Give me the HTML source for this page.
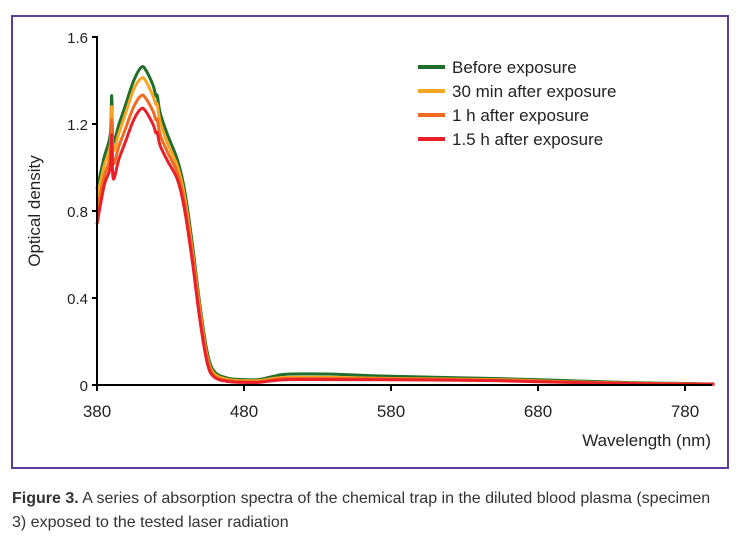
<!DOCTYPE html>
<html><head><meta charset="utf-8"><style>
body{margin:0;background:#fff;width:738px;height:547px;overflow:hidden;font-family:"Liberation Sans",Arial,sans-serif}
#frame{position:absolute;left:11px;top:15px;width:714px;height:450px;border:2px solid #5b3d9c}
#cap{position:absolute;left:12px;top:487px;width:712px;font-size:16px;line-height:24px;color:#333}
</style></head><body>
<div id="frame"></div>
<svg id="chart" width="738" height="547" style="position:absolute;left:0;top:0"></svg>
<div id="cap"><b>Figure 3.</b> A series of absorption spectra of the chemical trap in the diluted blood plasma (specimen 3) exposed to the tested laser radiation</div>
<script>
const wavelengths=[380,385,389,390,391,395,400,405,410,413,418,420,421,423,428,435,440,445,450,455,460,470,480,490,500,510,540,580,650,700,750,800];
const before=[0.90,1.05,1.15,1.33,1.12,1.20,1.30,1.40,1.46,1.45,1.38,1.33,1.33,1.25,1.15,1.03,0.88,0.64,0.37,0.15,0.06,0.03,0.025,0.025,0.04,0.05,0.05,0.04,0.03,0.02,0.01,0.005];
const min30=[0.86,1.01,1.10,1.28,1.08,1.16,1.26,1.36,1.41,1.40,1.33,1.29,1.29,1.21,1.11,1.00,0.85,0.61,0.35,0.13,0.05,0.025,0.02,0.02,0.03,0.035,0.035,0.03,0.025,0.015,0.008,0.004];
const h1=[0.80,0.96,1.05,1.22,1.02,1.10,1.19,1.28,1.33,1.32,1.26,1.22,1.22,1.15,1.07,0.97,0.82,0.59,0.33,0.12,0.04,0.02,0.015,0.015,0.025,0.03,0.03,0.028,0.022,0.014,0.007,0.004];
const h15=[0.74,0.92,1.00,1.15,0.95,1.04,1.13,1.22,1.27,1.26,1.20,1.16,1.16,1.10,1.03,0.94,0.79,0.56,0.30,0.10,0.035,0.015,0.012,0.012,0.02,0.025,0.025,0.024,0.02,0.012,0.006,0.003];
const seriesNames=["Before exposure","30 min after exposure","1 h after exposure","1.5 h after exposure"];
const xTicks=[380,480,580,680,780];
const yTicks=[0,0.4,0.8,1.2,1.6];
const colors=["#1f6e2a","#f5a623","#f26b21","#e8202a"];
const NS="http://www.w3.org/2000/svg";
const svg=document.getElementById('chart');
const X=v=>97+(v-380)*1.47;
const Y=v=>385-v*217.5;
function mk(t,a,p){const e=document.createElementNS(NS,t);for(const k in a)e.setAttribute(k,a[k]);(p||svg).appendChild(e);return e;}
function smooth(pts){
 let d='M'+pts[0][0].toFixed(1)+','+pts[0][1].toFixed(1);
 for(let i=0;i<pts.length-1;i++){
  const p0=pts[Math.max(0,i-1)],p1=pts[i],p2=pts[i+1],p3=pts[Math.min(pts.length-1,i+2)];
  const c1=[p1[0]+(p2[0]-p0[0])/6,p1[1]+(p2[1]-p0[1])/6];
  const c2=[p2[0]-(p3[0]-p1[0])/6,p2[1]-(p3[1]-p1[1])/6];
  d+='C'+c1.map(v=>v.toFixed(1)).join(',')+' '+c2.map(v=>v.toFixed(1)).join(',')+' '+p2[0].toFixed(1)+','+p2[1].toFixed(1);
 }
 return d;
}
const data=[before,min30,h1,h15];
data.forEach((s,i)=>{
 const pts=wavelengths.map((w,j)=>[X(w),Y(s[j])]);
 const p=mk('path',{d:smooth(pts),fill:'none',stroke:colors[i],'stroke-width':3,'stroke-linejoin':'round'});
 
 
});
const ya=mk('line',{x1:97,y1:36,x2:97,y2:386,stroke:'#000','stroke-width':2});


const xa=mk('line',{x1:96,y1:385,x2:712,y2:385,stroke:'#000','stroke-width':2});


yTicks.forEach(v=>{
 mk('line',{x1:92,y1:Y(v),x2:97,y2:Y(v),stroke:'#000','stroke-width':2});
 const t=mk('text',{x:88,y:Y(v)+6,'text-anchor':'end','font-size':15,fill:'#222'});t.textContent=v===0?'0':v.toFixed(1);
 
 
});
xTicks.forEach(v=>{
 mk('line',{x1:X(v),y1:385,x2:X(v),y2:391,stroke:'#000','stroke-width':2});
 const t=mk('text',{x:X(v),y:417,'text-anchor':'middle','font-size':17,fill:'#222'});t.textContent=v;
 
 
});
const xt=mk('text',{x:711,y:446,'text-anchor':'end','font-size':17,fill:'#222'});xt.textContent='Wavelength (nm)';


const yt=mk('text',{x:0,y:0,'text-anchor':'middle','font-size':17,fill:'#222',transform:'translate(40,211) rotate(-90)'});yt.textContent='Optical density';


seriesNames.forEach((n,i)=>{
 const g=mk('g',{});
 
 
 mk('line',{x1:418,y1:67+i*24,x2:445,y2:67+i*24,stroke:colors[i],'stroke-width':4},g);
 const t=mk('text',{x:452,y:73+i*24,'font-size':17,fill:'#222'},g);t.textContent=n;
});
</script>
</body></html>
